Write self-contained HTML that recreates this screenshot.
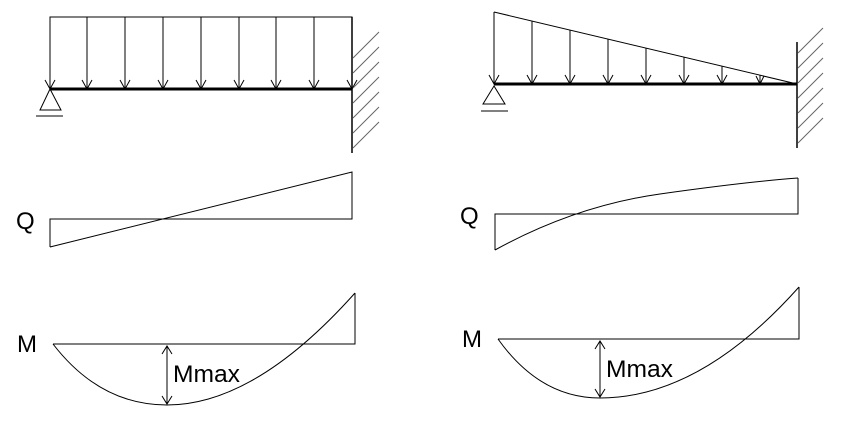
<!DOCTYPE html>
<html><head><style>body{margin:0;background:#fff}svg{display:block}</style></head><body>
<svg width="864" height="432" xmlns="http://www.w3.org/2000/svg" font-family="Liberation Sans, sans-serif">
<g stroke="#000" fill="none" stroke-width="1">
<polyline points="50,89 50,17 352,17 352,89"/>
<path d="M87,17V89M125,17V89M163,17V89M201,17V89M239,17V89M276,17V89M314,17V89"/>
<path d="M45,80L50,89L55,80M82,80L87,89L92,80M120,80L125,89L130,80M158,80L163,89L168,80M196,80L201,89L206,80M234,80L239,89L244,80M271,80L276,89L281,80M309,80L314,89L319,80M347,80L352,89L357,80"/>
<line x1="50" y1="89" x2="352" y2="89" stroke-width="3"/>
<polygon points="50,89 40,110 61,110"/>
<line x1="36" y1="116" x2="63" y2="116"/>
<line x1="352" y1="17" x2="352" y2="153" stroke-width="1.5"/>
<g stroke="#666"><path d="M353,58L379,32M353,73L379,47M353,88L379,62M353,103L379,77M353,118L379,92M353,133L379,107M353,148L379,122"/></g>
<line x1="494" y1="12" x2="494" y2="84"/>
<line x1="494" y1="12" x2="797" y2="84"/>
<path d="M532,21V84M570,30V84M608,39V84M646,48V84M684,57V84M722,66V84M760,75V84"/>
<path d="M489,75L494,84L499,75M527,75L532,84L537,75M565,75L570,84L575,75M603,75L608,84L613,75M641,75L646,84L651,75M679,75L684,84L689,75M717,75L722,84L727,75M756,76L760,84L764,76"/>
<line x1="494" y1="84" x2="797" y2="84" stroke-width="3"/>
<polygon points="494,86 483,104 505,104"/>
<line x1="481" y1="111" x2="508" y2="111"/>
<line x1="797" y1="42" x2="797" y2="148" stroke-width="1.5"/>
<g stroke="#666"><path d="M798,53L823,28M798,68L823,43M798,83L823,58M798,98L823,73M798,113L823,88M798,128L823,103M798,143L823,118"/></g>
<polyline points="50,247 50,219 352,219 352,172 50,247"/>
<polyline points="495,250 495,214 798,214 798,178"/>
<path d="M495,250 Q575,206 660,194 T798,178"/>
<polyline points="53,344 355,344 355,293"/>
<path d="M53,344 Q100,405 167,405 Q255,405 355,293"/>
<line x1="167" y1="346" x2="167" y2="404"/>
<path d="M162,354L167,346L172,354M162,396L167,404L172,396"/>
<polyline points="498,339 799,339 799,287"/>
<path d="M498,339 Q540,398 600,398 Q700,398 799,287"/>
<line x1="600" y1="341" x2="600" y2="397"/>
<path d="M595,349L600,341L605,349M595,389L600,397L605,389"/>
</g>
<g font-size="24" fill="#000">
<text x="16" y="229">Q</text>
<text x="17" y="352">M</text>
<text x="173" y="382" textLength="67" lengthAdjust="spacingAndGlyphs">Mmax</text>
<text x="460" y="224">Q</text>
<text x="462" y="347">M</text>
<text x="606" y="377" textLength="67" lengthAdjust="spacingAndGlyphs">Mmax</text>
</g>
</svg>
</body></html>
